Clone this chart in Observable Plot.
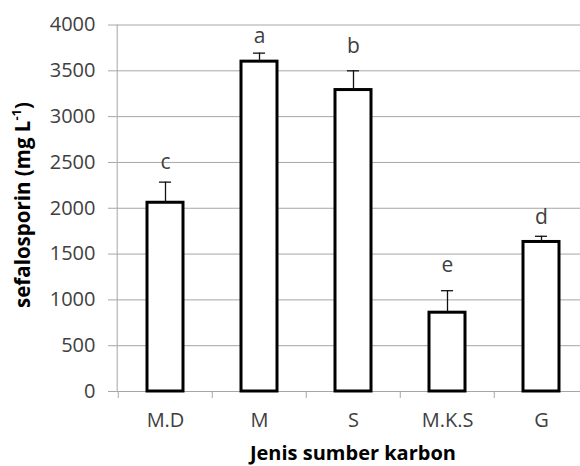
<!DOCTYPE html>
<html>
<head>
<meta charset="utf-8">
<script src="https://cdn.jsdelivr.net/npm/d3@7"></script>
<script src="https://cdn.jsdelivr.net/npm/@observablehq/plot@0.6"></script>
<style>
  html, body { margin: 0; padding: 0; background: #fff; overflow: hidden; }
  #chart svg { display: block; }
</style>
</head>
<body>
<div id="chart"></div>
<script>
const categories = ["M.D", "M", "S", "M.K.S", "G"];
const values = [2060, 3600, 3290, 860, 1632];
const errors = [225, 93, 210, 240, 62];
const letters = ["c", "a", "b", "e", "d"];
const letterY = [2500, 3875, 3766, 1379, 1902];
const yTicks = [0, 500, 1000, 1500, 2000, 2500, 3000, 3500, 4000];

const data = categories.map((c, i) => ({
  cat: c, value: values[i], err: errors[i], top: values[i] + errors[i],
  letter: letters[i], ly: letterY[i]
}));

const W = 580, H = 466;
const mL = 116.7, mT = 24.5, mB = 75;
const xRange = [mL, 589.2];
const step = (xRange[1] - xRange[0]) / categories.length;
const pInner = 0.62;
const bw = step * (1 - pInner);
const capW = 12;
const grid = "#a6a6a6";
const ink = "#404040";
const font = "'Open Sans', sans-serif";

const plot = Plot.plot({
  width: W, height: H,
  marginLeft: mL, marginRight: 0, marginTop: mT, marginBottom: mB,
  style: { fontFamily: font, fontSize: "20px", color: ink, background: "#fff", overflow: "visible" },
  x: { type: "band", domain: categories, range: xRange, paddingInner: pInner, paddingOuter: pInner / 2 },
  y: { domain: [0, 4000], range: [H - mB, mT] },
  marks: [
    Plot.ruleY(yTicks, { stroke: grid, strokeWidth: 1 }),
    Plot.axisY({ ticks: yTicks, tickFormat: d => String(d), tickSize: 8.7, tickPadding: 13, stroke: grid, fill: ink, label: null, fontSize: 20, style: "letter-spacing:1.3px" }),
    Plot.axisX({ tickSize: 7, text: null, stroke: grid, dx: -step / 2, label: null }),
    Plot.axisX({ tickSize: 0, tickPadding: 21, fill: ink, label: null, fontSize: 20, style: "letter-spacing:1.3px" }),
    Plot.frame({ anchor: "left", stroke: grid }),
    Plot.barY(data, { x: "cat", y: "value", fill: "white", stroke: "black", strokeWidth: 3 }),
    Plot.ruleX(data, { x: "cat", y1: "value", y2: "top", stroke: "#111", strokeWidth: 1.3 }),
    Plot.tickY(data, { x: "cat", y: "top", stroke: "#111", strokeWidth: 1.3, insetLeft: (bw - capW) / 2, insetRight: (bw - capW) / 2 }),
    Plot.text(data, { x: "cat", y: "ly", text: "letter", fill: ink, fontSize: 21 })
  ]
});

const svg = d3.select(plot);
// y-axis title with superscript
const yt = svg.append("text")
  .attr("transform", `translate(23,205) rotate(-90)`)
  .attr("text-anchor", "middle")
  .attr("dy", "0.35em")
  .attr("font-family", font)
  .attr("font-weight", "bold")
  .attr("font-size", 20.5)
  .attr("fill", "#000");
yt.append("tspan").text("sefalosporin (mg L");
yt.append("tspan").attr("font-size", 13).attr("baseline-shift", "super").text("-1");
yt.append("tspan").text(")");

// x-axis title
svg.append("text")
  .attr("x", (xRange[0] + xRange[1]) / 2)
  .attr("y", 460)
  .attr("text-anchor", "middle")
  .attr("font-family", font)
  .attr("font-weight", "bold")
  .attr("font-size", 20)
  .attr("fill", "#000")
  .text("Jenis sumber karbon");

document.getElementById("chart").appendChild(plot);
</script>
</body>
</html>
